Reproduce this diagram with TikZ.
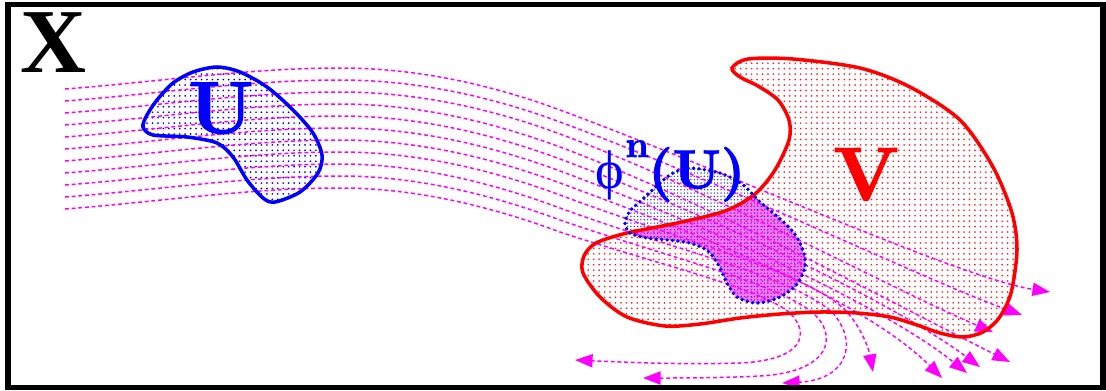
\documentclass[tikz,border=0pt]{standalone}
\usepackage{fontspec}
\usepackage{graphicx}
\usetikzlibrary{patterns,arrows.meta}
\newfontfamily\phifont{Liberation Serif}
\newfontfamily\heavy{lmroman10-bold.otf}[FakeBold=1.6]
\definecolor{mag}{RGB}{255,0,255}
\definecolor{pblue}{RGB}{0,0,255}
\definecolor{pred}{RGB}{255,0,0}
\pgfdeclarepatternformonly{bigdots}{\pgfqpoint{-1pt}{-1pt}}{\pgfqpoint{1pt}{1pt}}{\pgfqpoint{3.1pt}{3.1pt}}{\pgfpathcircle{\pgfqpoint{0pt}{0pt}}{0.55pt}\pgfusepath{fill}}
\pgfdeclarepatternformonly{finedots}{\pgfqpoint{-0.6pt}{-0.6pt}}{\pgfqpoint{0.6pt}{0.6pt}}{\pgfqpoint{1.9pt}{1.9pt}}{\pgfpathcircle{\pgfqpoint{0pt}{0pt}}{0.45pt}\pgfusepath{fill}}
\begin{document}
\begin{tikzpicture}[x=0.02cm,y=-0.02cm,
  flow/.style={mag, line width=0.85pt, dash pattern=on 2.2pt off 1.6pt},
  flowarrow/.style={flow, -{Triangle[length=10pt,width=7.5pt]}},
  label/.style={inner sep=0pt, anchor=base}]
\useasboundingbox (0,0) rectangle (1106,390);
\def\Upath{plot[smooth cycle] coordinates {(143,127) (153,135) (187,137) (217,143) (233,157) (247,180) (263,198) (275,202) (300,192) (318,173) (322,155) (313,133) (293,110) (267,87) (240,72) (217,67) (193,72) (173,83) (157,100) (147,115)}}
\def\Vpath{plot[smooth cycle] coordinates {(732,68) (748,59) (793,59) (860,68) (910,87) (960,120) (993,167) (1012,213) (1017,250) (1011,293) (999,318) (983,332) (963,337) (940,333) (917,325) (890,317) (857,313) (820,312) (780,314) (740,318) (700,324) (665,326) (627,317) (600,297) (583,273) (584,256) (596,243) (627,233) (677,223) (725,211) (755,194) (775,170) (789,140) (789,120) (778,100) (758,86) (740,77)}}
\def\Ppath{plot[smooth cycle] coordinates {(690,168) (720,173) (742,184) (760,202) (778,217) (794,233) (803,250) (805,267) (797,284) (780,297) (757,303) (737,297) (727,283) (719,266) (708,251) (690,243) (668,240) (647,238) (630,233) (625,223) (630,211) (645,197) (660,183) (673,173)}}
% fills
\fill[pattern=bigdots, pattern color=pblue] \Upath;
\begin{scope}
  \clip \Vpath;
  \fill[mag!55] \Ppath;
\end{scope}
\fill[pattern=bigdots, pattern color=pred!85] \Vpath;
\fill[pattern=finedots, pattern color=pblue!80] \Ppath;
% flow lines
\draw[flowarrow] (65,89) .. controls (157,82) and (248,68) .. (340,68) .. controls (413,68) and (487,83) .. (560,110) .. controls (720,169) and (960,278) .. (1050,292);
\draw[flowarrow] (65,101) .. controls (157,94) and (248,80) .. (340,80) .. controls (413,80) and (487,95) .. (560,122) .. controls (720,181) and (930,282) .. (1022,315);
\draw[flowarrow] (65,113) .. controls (157,106) and (248,92) .. (340,92) .. controls (413,92) and (487,107) .. (560,134) .. controls (710,190) and (900,293) .. (993,332);
\draw[flowarrow] (65,125) .. controls (157,118) and (248,104) .. (340,104) .. controls (413,104) and (487,120) .. (560,147) .. controls (710,203) and (900,307) .. (1010,362);
\draw[flowarrow] (65,137) .. controls (157,130) and (248,116) .. (340,116) .. controls (413,116) and (487,132) .. (560,159) .. controls (700,211) and (890,300) .. (980,367);
\draw[flowarrow] (65,149) .. controls (157,142) and (248,128) .. (340,128) .. controls (413,128) and (487,144) .. (560,171) .. controls (690,219) and (880,303) .. (967,373);
\draw[flowarrow] (65,161) .. controls (157,154) and (248,140) .. (340,140) .. controls (413,140) and (487,156) .. (560,183) .. controls (680,227) and (860,296) .. (942,378);
\draw[flowarrow] (65,173) .. controls (157,166) and (248,152) .. (340,152) .. controls (413,152) and (487,168) .. (560,195) .. controls (680,240) and (800,270) .. (843,308) .. controls (858,322) and (868,345) .. (873,372);
\draw[flowarrow] (65,185) .. controls (157,178) and (248,164) .. (340,164) .. controls (413,164) and (487,181) .. (560,208) .. controls (680,252) and (790,275) .. (833,313) .. controls (860,345) and (845,380) .. (782,383);
\draw[flowarrow] (65,197) .. controls (157,190) and (248,176) .. (340,176) .. controls (413,176) and (487,193) .. (560,220) .. controls (670,258) and (775,282) .. (813,313) .. controls (838,335) and (832,372) .. (760,376) .. controls (720,378) and (680,378) .. (643,378);
\draw[flowarrow] (65,209) .. controls (157,202) and (248,188) .. (340,188) .. controls (413,188) and (487,205) .. (560,232) .. controls (660,265) and (760,288) .. (790,313) .. controls (810,333) and (805,360) .. (740,363) .. controls (680,365) and (620,362) .. (575,360);
% outlines
\draw[pblue, line width=2pt] \Upath;
\draw[pred, line width=2pt] \Vpath;
\draw[pblue, line width=2.2pt, line cap=round, dash pattern=on 0pt off 3.1pt] \Ppath;
% frame
\draw[black, line width=3.1pt] (7.8,4.7) rectangle (1103,387.6);
% labels
\node[label, anchor=base west] (X) at (20,72) {\fontsize{52}{52}\selectfont\phifont\bfseries X};
\node[label, pblue] (U) at (221,133) {\fontsize{42}{42}\selectfont\heavy U};
\node[label, pred] (V) at (866,200) {\fontsize{43}{43}\selectfont\heavy V};
\node[label, anchor=base west, pblue] (phi) at (595,188) {\fontsize{31}{31}\selectfont\phifont ϕ};
\node[label, anchor=base west, pblue] (n) at (625,157) {\fontsize{21}{21}\selectfont\heavy n};
\node[label, anchor=base west, pblue] (UU) at (648,188) {\fontsize{31}{31}\selectfont\heavy (U)};
\end{tikzpicture}
\end{document}
